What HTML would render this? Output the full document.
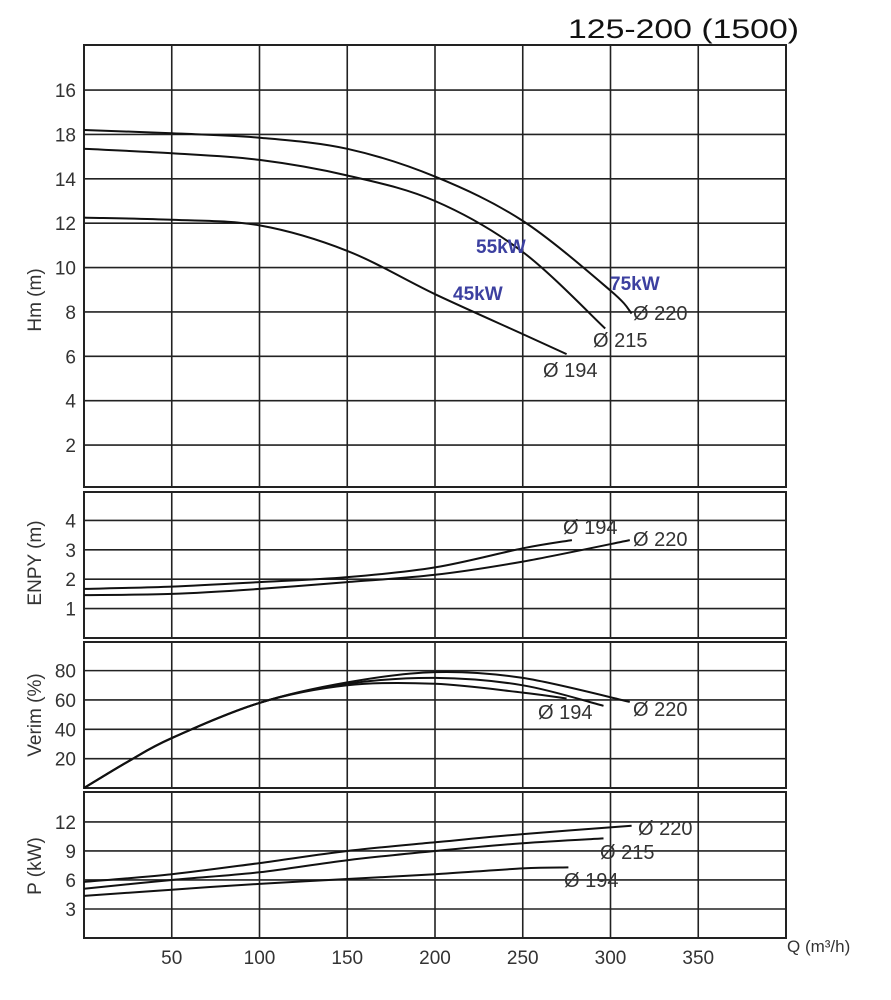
<!DOCTYPE html>
<html><head><meta charset="utf-8">
<style>
html,body{margin:0;padding:0;background:#fff;}
svg{display:block;}
text{font-family:"Liberation Sans",sans-serif;fill:#333;}
</style></head>
<body>
<svg id="chart" width="891" height="1000" viewBox="0 0 891 1000" xmlns="http://www.w3.org/2000/svg">
<text x="568" y="38" font-size="27" textLength="231" lengthAdjust="spacingAndGlyphs" style="fill:#111">125-200 (1500)</text>
<g id="layer"></g>
</svg>
<script>
// X axis
const qTicks = [50,100,150,200,250,300,350];
const qMax = 400;
// Head panel
const hTicks = [2,4,6,8,10,12,14,16,18];
const hTickLabels = ["2","4","6","8","10","12","14","18","16"];
const hQ220 = [0,50,100,150,200,250,300,312];
const hV220 = [16.2,16.05,15.85,15.35,14.1,12.1,8.96,7.93];
const hQ215 = [0,50,100,150,200,250,297];
const hV215 = [15.35,15.15,14.85,14.15,13.0,10.7,7.25];
const hQ194 = [0,50,100,150,200,250,275];
const hV194 = [12.25,12.15,11.9,10.75,8.8,7.0,6.1];
// NPSH panel
const nTicks = [1,2,3,4];
const nQ194 = [0,50,100,150,200,250,278];
const nV194 = [1.67,1.75,1.9,2.07,2.4,3.05,3.33];
const nQ220 = [0,50,100,150,200,250,311];
const nV220 = [1.46,1.5,1.67,1.9,2.15,2.6,3.33];
// Efficiency panel
const eTicks = [20,40,60,80];
const eQ220 = [0,25,50,100,150,200,250,311];
const eV220 = [0,18,34,58,72,79,75,58.7];
const eQ215 = [0,25,50,100,150,200,250,296];
const eV215 = [0,18,34,58,71,75,70,56];
const eQ194 = [0,25,50,100,150,200,250,275];
const eV194 = [0,18,34,58,70,71,65,61];
// Power panel
const pTicks = [3,6,9,12];
const pQ220 = [0,50,100,150,200,250,312];
const pV220 = [5.8,6.6,7.75,9.0,9.9,10.75,11.6];
const pQ215 = [0,50,100,150,200,250,296];
const pV215 = [5.1,6.0,6.8,8.05,9.0,9.8,10.3];
const pQ194 = [0,50,100,150,200,250,276];
const pV194 = [4.35,5.0,5.6,6.1,6.6,7.2,7.3];

const NS = "http://www.w3.org/2000/svg";
const layer = document.getElementById('layer');
const X0 = 84, X1 = 786;
function xs(q){ return X0 + (X1 - X0) * q / qMax; }
function mk(tag, attrs, parent){
  const e = document.createElementNS(NS, tag);
  for (const k in attrs) e.setAttribute(k, attrs[k]);
  (parent || layer).appendChild(e);
  return e;
}
function pathFrom(qs, vs, ys){
  const p = qs.map((q,i)=>[xs(q), ys(vs[i])]);
  let d = "M"+p[0][0].toFixed(1)+","+p[0][1].toFixed(1);
  for (let i=0;i<p.length-1;i++){
    const a=p[i-1]||p[i], b=p[i], c=p[i+1], e=p[i+2]||c;
    const c1=[b[0]+(c[0]-a[0])/6, b[1]+(c[1]-a[1])/6];
    const c2=[c[0]-(e[0]-b[0])/6, c[1]-(e[1]-b[1])/6];
    d += " C"+c1[0].toFixed(1)+","+c1[1].toFixed(1)+" "+c2[0].toFixed(1)+","+c2[1].toFixed(1)+" "+c[0].toFixed(1)+","+c[1].toFixed(1);
  }
  return d;
}
function panel(name, top, bottom, vmin, vmax, ticks, labels, title, titleY){
  const ys = v => bottom - (bottom - top) * (v - vmin) / (vmax - vmin);
  const g = mk('g', {});
  
  
  ticks.forEach((t,i)=>{
    const l = mk('line', {x1:X0, x2:X1, y1:ys(t), y2:ys(t), stroke:'#222', 'stroke-width':1.6}, g);
    
    
    const tx = mk('text', {x:76, y:ys(t)+7, 'font-size':19, 'text-anchor':'end'}, g);
    tx.textContent = labels ? labels[i] : String(t);
    
    
  });
  qTicks.forEach(q=>{
    const l = mk('line', {x1:xs(q), x2:xs(q), y1:top, y2:bottom, stroke:'#222', 'stroke-width':1.6}, g);
    
    
  });
  const r = mk('rect', {x:X0, y:top, width:X1-X0, height:bottom-top, fill:'none', stroke:'#222', 'stroke-width':2}, g);
  
  
  const at = mk('text', {x:0, y:0, 'font-size':19, 'text-anchor':'middle', transform:'translate(41,'+titleY+') rotate(-90)'}, g);
  at.textContent = title;
  
  
  return {g, ys};
}
function curve(pn, name, qs, vs){
  const p = mk('path', {d:pathFrom(qs, vs, pn.ys), fill:'none', stroke:'#111', 'stroke-width':2}, pn.g);
  
  
}
function label(pn, name, txt, x, y, extra){
  const t = mk('text', Object.assign({x:x, y:y, 'font-size':20}, extra||{}), pn.g);
  t.textContent = txt;
  
  
}

const H = panel('head', 45, 487, 0.108, 20.03, hTicks, hTickLabels, 'Hm (m)', 300);
curve(H, 'head-curve-220', hQ220, hV220);
curve(H, 'head-curve-215', hQ215, hV215);
curve(H, 'head-curve-194', hQ194, hV194);
label(H, 'head-label-220', 'Ø 220', 633, 320);
label(H, 'head-label-215', 'Ø 215', 593, 347);
label(H, 'head-label-194', 'Ø 194', 543, 377);
const kw = {'font-size':19, 'font-weight':'bold', style:'fill:#3c40a0'};
label(H, 'power-rating-55kw', '55kW', 476, 253, kw);
label(H, 'power-rating-45kw', '45kW', 453, 300, kw);
label(H, 'power-rating-75kw', '75kW', 610, 290, kw);

const N = panel('npsh', 492, 638, 0, 4.966, nTicks, null, 'ENPY (m)', 563);
curve(N, 'npsh-curve-194', nQ194, nV194);
curve(N, 'npsh-curve-220', nQ220, nV220);
label(N, 'npsh-label-194', 'Ø 194', 563, 534);
label(N, 'npsh-label-220', 'Ø 220', 633, 546);

const E = panel('efficiency', 642, 788, 0, 99.5, eTicks, null, 'Verim (%)', 715);
curve(E, 'efficiency-curve-220', eQ220, eV220);
curve(E, 'efficiency-curve-215', eQ215, eV215);
curve(E, 'efficiency-curve-194', eQ194, eV194);
label(E, 'efficiency-label-194', 'Ø 194', 538, 719);
label(E, 'efficiency-label-220', 'Ø 220', 633, 716);

const P = panel('power', 792, 938, 0, 15.1, pTicks, null, 'P (kW)', 866);
curve(P, 'power-curve-220', pQ220, pV220);
curve(P, 'power-curve-215', pQ215, pV215);
curve(P, 'power-curve-194', pQ194, pV194);
label(P, 'power-label-220', 'Ø 220', 638, 835);
label(P, 'power-label-215', 'Ø 215', 600, 859);
label(P, 'power-label-194', 'Ø 194', 564, 887);

qTicks.forEach(q=>{
  const t = mk('text', {x:xs(q), y:964, 'font-size':19, 'text-anchor':'middle'});
  t.textContent = String(q);
  
  
});
const xt = mk('text', {x:787, y:952, 'font-size':17});
xt.textContent = 'Q (m³/h)';


</script>
</body></html>
